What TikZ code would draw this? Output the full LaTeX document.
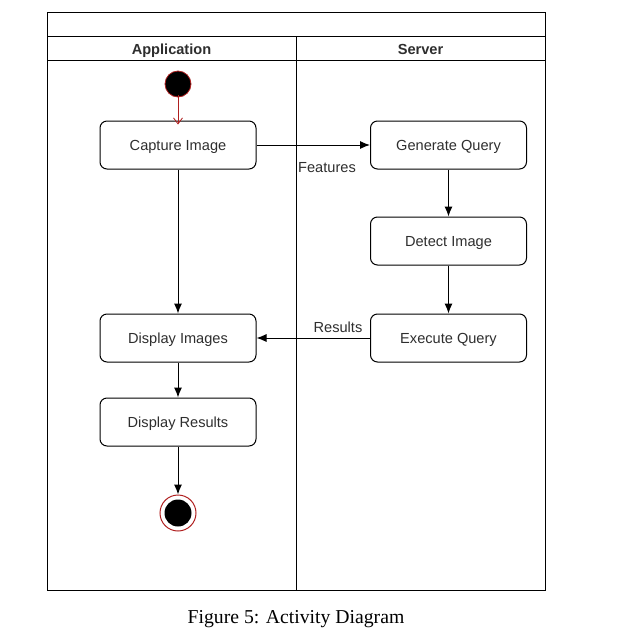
\documentclass[tikz,border=0pt]{standalone}
\usepackage{fontspec}
\setmainfont{Liberation Sans}
\newfontfamily\capfont{Liberation Serif}
\usetikzlibrary{arrows.meta}
\definecolor{txt}{HTML}{2E2E2E}
\definecolor{startred}{HTML}{B02020}
\tikzset{
  act/.style={draw, rounded corners=7pt, minimum width=156pt, minimum height=48pt, line width=1pt, text=txt, font=\fontsize{14.6}{16}\selectfont, inner sep=0pt, text height=10.5pt, text depth=0pt},
  flow/.style={-{Latex[length=10pt,width=8pt]}, line width=1pt},
  frame/.style={line width=1pt},
  lane/.style={font=\bfseries\fontsize{14.6}{16}\selectfont, text=txt, inner sep=0pt, text height=10.5pt, text depth=0pt},
  lbl/.style={font=\fontsize{14.6}{16}\selectfont, text=txt, inner sep=0pt, text height=10.5pt, text depth=0pt}
}
\begin{document}
\begin{tikzpicture}[x=1pt,y=-1pt]
\useasboundingbox (0,0) rectangle (619,641);
% frame
\draw[frame] (47,12) rectangle (545,590);
\draw[frame] (47,36) -- (545,36);
\draw[frame] (47,60) -- (545,60);
\draw[frame] (296,36) -- (296,590);
\node[lane] (lapp) at (171.5,49.5) {Application};
\node[lane] (lsrv) at (420.5,49.5) {Server};
% start
\node[circle, fill=black, draw=startred, line width=0.8pt, minimum size=26pt, inner sep=0pt] (start) at (178,84) {};
% activities
\node[act] (cap) at (178,145) {Capture Image};
\node[act] (gen) at (448.5,145) {Generate Query};
\node[act] (det) at (448.5,241) {Detect Image};
\node[act] (exe) at (448.5,338) {Execute Query};
\node[act] (dimg) at (178,338) {Display Images};
\node[act] (dres) at (178,422) {Display Results};
% end
\node[circle, draw=startred, line width=1pt, minimum size=36pt, inner sep=0pt] (end) at (178,513) {};
\node[circle, fill=black, minimum size=27pt, inner sep=0pt] (endin) at (178,513) {};
% connectors
\draw[-{Straight Barb[length=6pt,width=9pt]}, draw=startred, line width=0.8pt] ([yshift=2pt]start.south) -- ([yshift=-4pt]cap.north);
\draw[flow] (cap) -- (gen);
\draw[flow] (cap) -- (dimg);
\draw[flow] (gen) -- (det);
\draw[flow] (det) -- (exe);
\draw[flow] (exe) -- (dimg);
\draw[flow] (dimg) -- (dres);
\draw[flow] (dres) -- (end);
% labels
\node[lbl, anchor=west] (feat) at (298,167) {Features};
\node[lbl] (res) at (338,327) {Results};
% caption
\node[font=\capfont\fontsize{19.7}{22}\selectfont] (cap5) at (296,619) {Figure 5: Activity Diagram};
\end{tikzpicture}
\end{document}
